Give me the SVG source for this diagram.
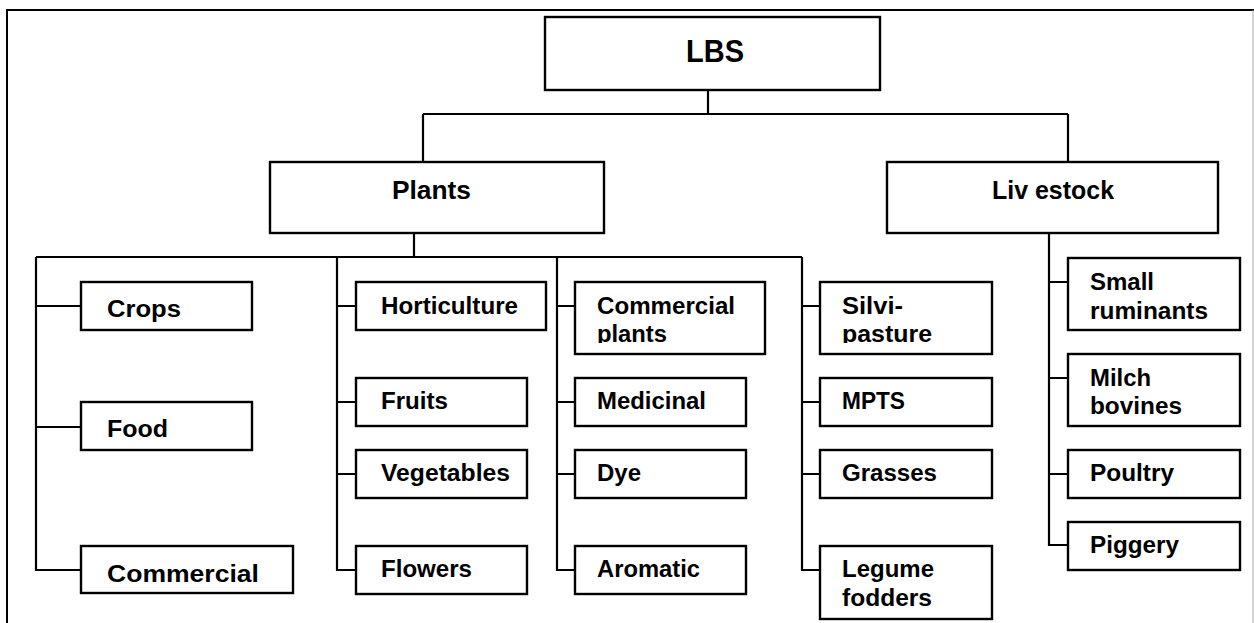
<svg xmlns="http://www.w3.org/2000/svg" width="1254" height="623" viewBox="0 0 1254 623">
  <style>
    .box { fill: #fff; stroke: #000; stroke-width: 2.4; }
    .wire { fill: none; stroke: #000; stroke-width: 2.2; }
    text { font-family: "Liberation Sans", Arial, sans-serif; font-weight: bold; fill: #000; }
    .t1 { font-size: 32px; }
    .t2 { font-size: 26px; }
    .t3 { font-size: 23px; }
  </style>
  <defs>
    <clipPath id="clipCommercialPlants"><rect x="575" y="282" width="190" height="61"/></clipPath>
    <clipPath id="clipSilvi"><rect x="820" y="282" width="172" height="61"/></clipPath>
  </defs>

  <rect width="1254" height="623" fill="#fff"/>
  <!-- outer frame -->
  <path d="M7,630 V10 H1254" fill="none" stroke="#000" stroke-width="2"/>
  <line x1="1253" y1="10" x2="1253" y2="623" stroke="#aaa" stroke-width="1"/>

  <g id="connectors" class="wire">
    <path d="M708,90 V114 M423,114 H1068 M423,114 V162 M1068,114 V162"/>
    <path d="M414,233 V257 M36,257 H802"/>
    <path d="M36,257 V570 H81 M36,306 H81 M36,427 H81"/>
    <path d="M337,257 V570 H356 M337,306 H356 M337,402 H356 M337,474 H356"/>
    <path d="M557,257 V570 H575 M557,306 H575 M557,402 H575 M557,474 H575"/>
    <path d="M802,257 V570 H820 M802,306 H820 M802,402 H820 M802,474 H820"/>
    <path d="M1049,233 V545 H1068 M1049,282 H1068 M1049,378 H1068 M1049,474 H1068"/>
  </g>

  <g id="lbs">
    <rect class="box" x="545" y="17" width="335" height="73"/>
    <text class="t1" x="686" y="62" textLength="58" lengthAdjust="spacingAndGlyphs">LBS</text>
  </g>
  <g id="plants">
    <rect class="box" x="270" y="162" width="334" height="71"/>
    <text class="t2" x="392" y="199" textLength="79" lengthAdjust="spacingAndGlyphs">Plants</text>
  </g>
  <g id="livestock">
    <rect class="box" x="887" y="162" width="331" height="71"/>
    <text class="t2" x="992" y="199" textLength="122" lengthAdjust="spacingAndGlyphs">Liv estock</text>
  </g>

  <!-- plants: column 1 -->
  <g id="crops">
    <rect class="box" x="81" y="282" width="171" height="48"/>
    <text class="t3" x="107" y="317" textLength="74" lengthAdjust="spacingAndGlyphs">Crops</text>
  </g>
  <g id="food">
    <rect class="box" x="81" y="402" width="171" height="48"/>
    <text class="t3" x="107" y="437" textLength="61" lengthAdjust="spacingAndGlyphs">Food</text>
  </g>
  <g id="commercial">
    <rect class="box" x="81" y="546" width="212" height="47"/>
    <text class="t3" x="107" y="582" textLength="152" lengthAdjust="spacingAndGlyphs">Commercial</text>
  </g>

  <!-- plants: column 2 -->
  <g id="horticulture">
    <rect class="box" x="356" y="282" width="190" height="48"/>
    <text class="t3" x="381" y="314" textLength="137" lengthAdjust="spacingAndGlyphs">Horticulture</text>
  </g>
  <g id="fruits">
    <rect class="box" x="356" y="378" width="171" height="48"/>
    <text class="t3" x="381" y="409" textLength="67" lengthAdjust="spacingAndGlyphs">Fruits</text>
  </g>
  <g id="vegetables">
    <rect class="box" x="356" y="450" width="171" height="48"/>
    <text class="t3" x="381" y="481" textLength="129" lengthAdjust="spacingAndGlyphs">Vegetables</text>
  </g>
  <g id="flowers">
    <rect class="box" x="356" y="546" width="171" height="48"/>
    <text class="t3" x="381" y="577" textLength="91" lengthAdjust="spacingAndGlyphs">Flowers</text>
  </g>

  <!-- plants: column 3 -->
  <g id="commercial-plants">
    <rect class="box" x="575" y="282" width="190" height="72"/>
    <g clip-path="url(#clipCommercialPlants)">
      <text class="t3" x="597" y="314" textLength="138" lengthAdjust="spacingAndGlyphs">Commercial</text>
      <text class="t3" x="597" y="342" textLength="70" lengthAdjust="spacingAndGlyphs">plants</text>
    </g>
  </g>
  <g id="medicinal">
    <rect class="box" x="575" y="378" width="171" height="48"/>
    <text class="t3" x="597" y="409" textLength="109" lengthAdjust="spacingAndGlyphs">Medicinal</text>
  </g>
  <g id="dye">
    <rect class="box" x="575" y="450" width="171" height="48"/>
    <text class="t3" x="597" y="481" textLength="44" lengthAdjust="spacingAndGlyphs">Dye</text>
  </g>
  <g id="aromatic">
    <rect class="box" x="575" y="546" width="171" height="48"/>
    <text class="t3" x="597" y="577" textLength="103" lengthAdjust="spacingAndGlyphs">Aromatic</text>
  </g>

  <!-- plants: column 4 -->
  <g id="silvi-pasture">
    <rect class="box" x="820" y="282" width="172" height="72"/>
    <g clip-path="url(#clipSilvi)">
      <text class="t3" x="842" y="314" textLength="61" lengthAdjust="spacingAndGlyphs">Silvi-</text>
      <text class="t3" x="842" y="342" textLength="90" lengthAdjust="spacingAndGlyphs">pasture</text>
    </g>
  </g>
  <g id="mpts">
    <rect class="box" x="820" y="378" width="172" height="48"/>
    <text class="t3" x="842" y="409" textLength="63" lengthAdjust="spacingAndGlyphs">MPTS</text>
  </g>
  <g id="grasses">
    <rect class="box" x="820" y="450" width="172" height="48"/>
    <text class="t3" x="842" y="481" textLength="95" lengthAdjust="spacingAndGlyphs">Grasses</text>
  </g>
  <g id="legume-fodders">
    <rect class="box" x="820" y="546" width="172" height="73"/>
    <text class="t3" x="842" y="577" textLength="92" lengthAdjust="spacingAndGlyphs">Legume</text>
    <text class="t3" x="842" y="606" textLength="90" lengthAdjust="spacingAndGlyphs">fodders</text>
  </g>

  <!-- livestock column -->
  <g id="small-ruminants">
    <rect class="box" x="1068" y="258" width="172" height="72"/>
    <text class="t3" x="1090" y="290" textLength="64" lengthAdjust="spacingAndGlyphs">Small</text>
    <text class="t3" x="1090" y="319" textLength="118" lengthAdjust="spacingAndGlyphs">ruminants</text>
  </g>
  <g id="milch-bovines">
    <rect class="box" x="1068" y="354" width="172" height="72"/>
    <text class="t3" x="1090" y="386" textLength="61" lengthAdjust="spacingAndGlyphs">Milch</text>
    <text class="t3" x="1090" y="414" textLength="92" lengthAdjust="spacingAndGlyphs">bovines</text>
  </g>
  <g id="poultry">
    <rect class="box" x="1068" y="450" width="172" height="48"/>
    <text class="t3" x="1090" y="481" textLength="84" lengthAdjust="spacingAndGlyphs">Poultry</text>
  </g>
  <g id="piggery">
    <rect class="box" x="1068" y="522" width="172" height="48"/>
    <text class="t3" x="1090" y="553" textLength="89" lengthAdjust="spacingAndGlyphs">Piggery</text>
  </g>
</svg>
